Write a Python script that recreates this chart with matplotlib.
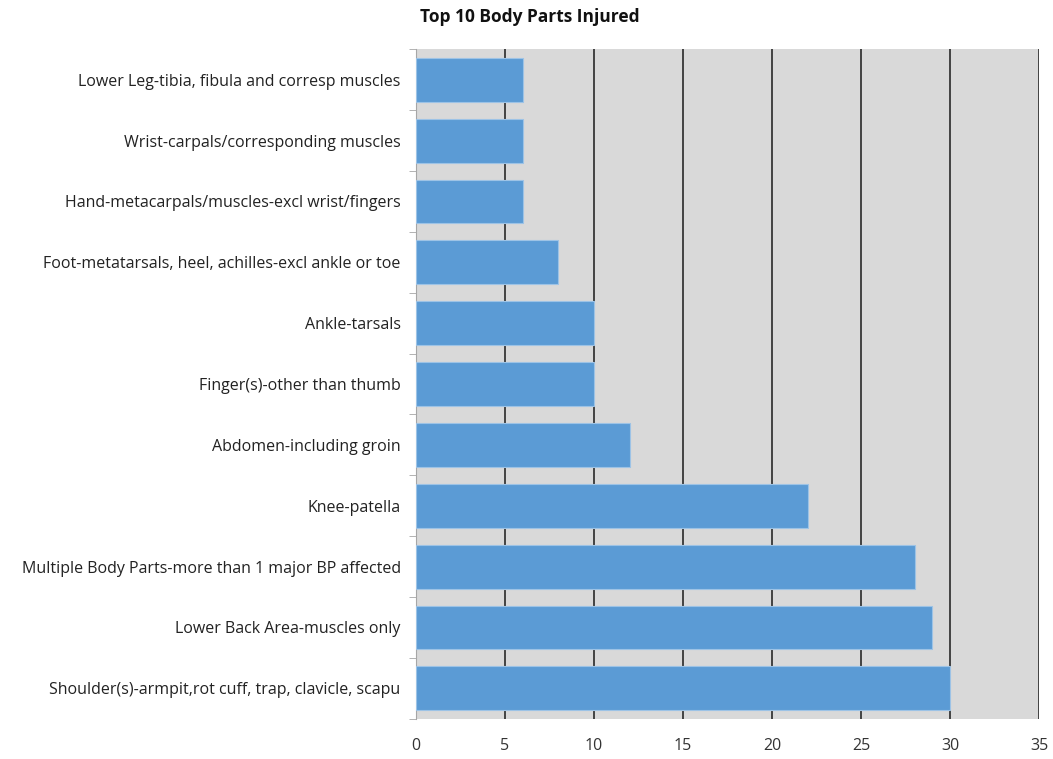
import matplotlib
matplotlib.use("Agg")
import matplotlib.pyplot as plt

# data, bottom to top as drawn
parts = [
    "Shoulder(s)-armpit,rot cuff, trap, clavicle, scapu",
    "Lower Back Area-muscles only",
    "Multiple Body Parts-more than 1 major BP affected",
    "Knee-patella",
    "Abdomen-including groin",
    "Finger(s)-other than thumb",
    "Ankle-tarsals",
    "Foot-metatarsals, heel, achilles-excl ankle or toe",
    "Hand-metacarpals/muscles-excl wrist/fingers",
    "Wrist-carpals/corresponding muscles",
    "Lower Leg-tibia, fibula and corresp muscles",
]
counts = [30, 29, 28, 22, 12, 10, 10, 8, 6, 6, 6]
xticks = [0, 5, 10, 15, 20, 25, 30, 35]

plt.rcParams['font.family'] = ['Open Sans', 'DejaVu Sans']

fig = plt.figure(figsize=(10.53, 7.59), dpi=100)
ax = fig.add_axes([0.395, 0.053, 0.592, 0.882])
ax.set_facecolor('#D9D9D9')

y = range(len(parts))
ax.barh(y, counts, height=0.72, color='#5B9BD5', edgecolor='#9DC3E6', linewidth=0.8, zorder=3)

ax.set_xlim(0, 35)
ax.set_ylim(-0.5, len(parts) - 0.5)
ax.set_xticks(xticks)
ax.set_xticklabels([str(t) for t in xticks], fontsize=11.5, color='#333333')
ax.set_yticks(list(y))
ax.set_yticklabels(parts, fontsize=11.5, color='#222222')

# tick marks between categories on the left axis
ax.set_yticks([i - 0.5 for i in range(len(parts) + 1)], minor=True)
ax.tick_params(axis='y', which='major', length=0, pad=11)
ax.tick_params(axis='y', which='minor', length=5, color='#A6A6A6')
ax.tick_params(axis='x', length=0, pad=14)

ax.xaxis.grid(True, color='#1a1a1a', linewidth=1.1, zorder=1)
ax.set_axisbelow(True)

for side in ['top', 'right', 'bottom']:
    ax.spines[side].set_visible(False)
ax.spines['left'].set_color('#A6A6A6')

fig.text(0.503, 0.977, "Top 10 Body Parts Injured", ha='center', va='center',
         fontsize=12.5, fontweight='bold', color='#111111')

fig.savefig("out.png", dpi=100)
